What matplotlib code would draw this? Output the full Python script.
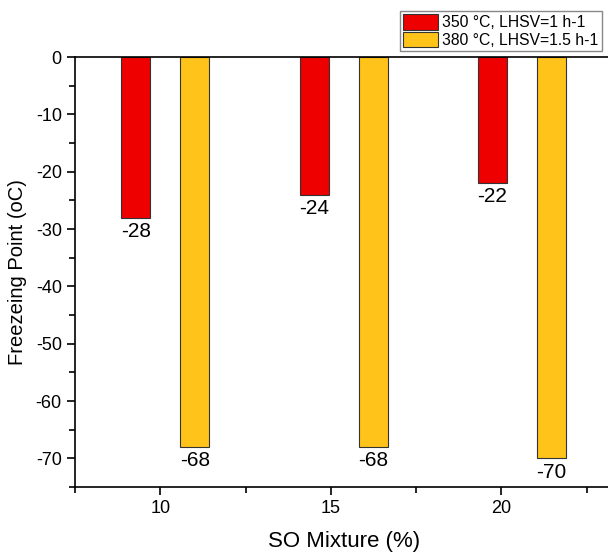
import numpy as np
import matplotlib.pyplot as plt
from matplotlib.ticker import MultipleLocator

plt.rcParams['font.family'] = ['Liberation Sans', 'DejaVu Sans']
plt.rcParams['axes.unicode_minus'] = False

mixture = np.array([10, 15, 20])
fp_350 = [-28, -24, -22]
fp_380 = [-68, -68, -70]
labels = ["350 °C, LHSV=1 h-1", "380 °C, LHSV=1.5 h-1"]

fig = plt.figure(figsize=(6.08, 5.53), dpi=100)
ax = fig.add_axes([75 / 608, 66 / 553, 597 / 608, 430 / 553])

# group centres sit slightly off the tick marks in the original
centre = 10 + (mixture - 10) * 1.045 + 0.15
w = 0.85
b1 = ax.bar(centre - 0.865, fp_350, w, color="#EE0000", edgecolor="#333333",
            linewidth=0.8, label=labels[0])
b2 = ax.bar(centre + 0.865, fp_380, w, color="#FFC31A", edgecolor="#333333",
            linewidth=0.8, label=labels[1])

for bars, vals in [(b1, fp_350), (b2, fp_380)]:
    for r, v in zip(bars, vals):
        ax.annotate(f"{v}", (r.get_x() + r.get_width() / 2, v), xytext=(0, -3),
                    textcoords="offset points", ha="center", va="top", fontsize=15)

ax.set_xlim(7.5, 25)
ax.set_ylim(-75, 0)
ax.set_xticks([10, 15, 20])
ax.xaxis.set_minor_locator(MultipleLocator(2.5))
ax.yaxis.set_major_locator(MultipleLocator(10))
ax.yaxis.set_minor_locator(MultipleLocator(5))
ax.tick_params(which="major", length=6, width=1.2, labelsize=13)
ax.tick_params(which="minor", length=4, width=1.2)
for s in ax.spines.values():
    s.set_linewidth(1.2)

ax.set_xlabel("SO Mixture (%)", fontsize=16)
ax.xaxis.set_label_coords(0.45, -0.103)
ax.set_ylabel("Freezeing Point (oC)", fontsize=14.5)
ax.yaxis.set_label_coords(-0.08, 0.5)

leg = ax.legend(loc="upper left", bbox_to_anchor=(400 / 608, 1 - 11 / 553),
                bbox_transform=fig.transFigure, borderaxespad=0, fontsize=11.3,
                handlelength=2.25, handleheight=1.15, labelspacing=0.1,
                handletextpad=0.25, borderpad=0.2, fancybox=False, framealpha=1,
                edgecolor="#888888")

fig.savefig("out.png", dpi=100)
